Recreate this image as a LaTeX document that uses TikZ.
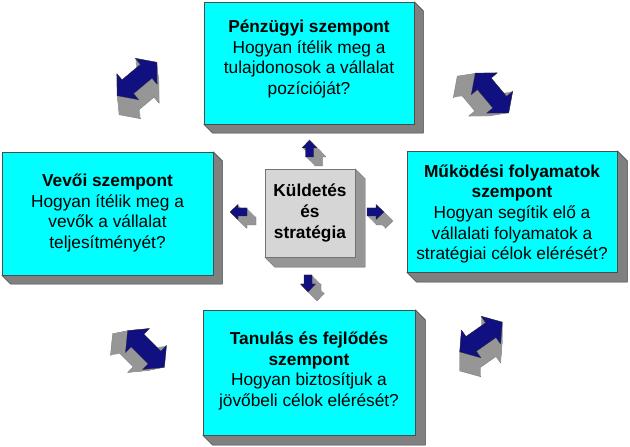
\documentclass[tikz,border=0pt]{standalone}
\usepackage{fontspec}
\setmainfont{Liberation Sans}
\usetikzlibrary{backgrounds,calc}
\definecolor{navy}{RGB}{16,16,128}
\definecolor{boxgray}{RGB}{128,128,128}
\definecolor{cyanface}{RGB}{0,255,255}
\definecolor{centerface}{RGB}{214,214,214}
\definecolor{ctrgray}{RGB}{150,150,150}
\definecolor{arrgray}{RGB}{150,150,150}
\tikzset{
  face/.style={draw=black!70, line width=0.5pt, fill=cyanface, inner sep=0pt},
  ctrface/.style={draw=black!55, line width=0.4pt, fill=centerface, inner sep=0pt},
  extr/.style={fill=boxgray, draw=black!75, line width=0.5pt, line join=round},
  ctrextr/.style={fill=ctrgray, draw=black!60, line width=0.4pt, line join=round},
  txt/.style={align=center, font=\fontsize{17.3}{20.7}\selectfont, inner sep=0pt},
  dbl/.pic={\path[pic actions] (-26,0) -- (-12,17) -- (-12,9) -- (12,9) -- (12,17) -- (26,0)
       -- (12,-17) -- (12,-9) -- (-12,-9) -- (-12,-17) -- cycle;},
  sgl/.pic={\path[pic actions] (0,4) -- (9,4) -- (9,7.5) -- (17,0) -- (9,-7.5) -- (9,-4)
       -- (0,-4) -- cycle;},
  arrface/.style={fill=navy, draw=black!80, line width=0.3pt, line join=round},
  arrback/.style={fill=arrgray},
  arrbackedge/.style={fill=arrgray, draw=black!55, line width=0.3pt, line join=round},
}
\newcommand\boxextr[3]{%
  \path[#3] (#1.north east) -- ++(#2,-#2) -- ($(#1.south east)+(#2,-#2)$)
     -- ($(#1.south west)+(#2,-#2)$) -- (#1.south west) -- (#1.south east) -- cycle;}
\newcommand\dblarrow[3]{% center, angle, extrusion vector
  \pic[arrbackedge, rotate=#2] at ($#1+#3$) {dbl};
  \foreach \t in {0,0.04,...,0.99}{\pic[arrback, rotate=#2] at ($#1+\t*#3$) {dbl};}
  \pic[arrface, rotate=#2] at #1 {dbl};}
\newcommand\sglarrow[3]{%
  \pic[arrbackedge, rotate=#2] at ($#1+#3$) {sgl};
  \foreach \t in {0,0.1,...,0.95}{\pic[arrback, rotate=#2] at ($#1+\t*#3$) {sgl};}
  \pic[arrface, rotate=#2] at #1 {sgl};}
\begin{document}
\begin{tikzpicture}[x=1pt,y=1pt]
\useasboundingbox (0,0) rectangle (630,447);

% faces
\node[face, minimum width=210pt, minimum height=122pt] (fin) at (309,384) {};
\node[face, minimum width=211pt, minimum height=123pt] (cust) at (107.5,233.5) {};
\node[face, minimum width=210pt, minimum height=121pt] (proc) at (512,235.5) {};
\node[face, minimum width=212pt, minimum height=125pt] (learn) at (309,74.5) {};
\node[ctrface, minimum width=90pt, minimum height=88pt] (core) at (310,234) {};

\begin{scope}[on background layer]
  \fill[white] (0,0) rectangle (630,447);
  \boxextr{fin}{9}{extr}
  \boxextr{cust}{9}{extr}
  \boxextr{proc}{10}{extr}
  \boxextr{learn}{10}{extr}
  \boxextr{core}{10}{ctrextr}
\end{scope}

% texts
\node[txt] (fintxt) at (309,388) {\textbf{Pénzügyi szempont}\\Hogyan ítélik meg a\\tulajdonosok a vállalat\\pozícióját?};
\node[txt] (custtxt) at (107.5,234) {\textbf{Vevői szempont}\\Hogyan ítélik meg a\\vevők a vállalat\\teljesítményét?};
\node[txt] (proctxt) at (512,233) {\textbf{Működési folyamatok}\\\textbf{szempont}\\Hogyan segítik elő a\\vállalati folyamatok a\\stratégiai célok elérését?};
\node[txt] (learntxt) at (309,76) {\textbf{Tanulás és fejlődés}\\\textbf{szempont}\\Hogyan biztosítjuk a\\jövőbeli célok elérését?};
\node[txt] (coretxt) at (310,234) {\textbf{Küldetés}\\\textbf{és}\\\textbf{stratégia}};

% small arrows from the centre
\sglarrow{(309.5,290)}{90}{(9,-9)}
\sglarrow{(247,235)}{180}{(9,-9)}
\sglarrow{(367,235)}{0}{(9,-9)}
\sglarrow{(308,172)}{-90}{(9,-9)}

% corner double arrows
\dblarrow{(137,368)}{40}{(2,-19)}
\dblarrow{(492,354)}{-50}{(-18,-3)}
\dblarrow{(146,98)}{-45}{(-15,-3)}
\dblarrow{(481,110)}{35}{(0,-19)}
\end{tikzpicture}
\end{document}
